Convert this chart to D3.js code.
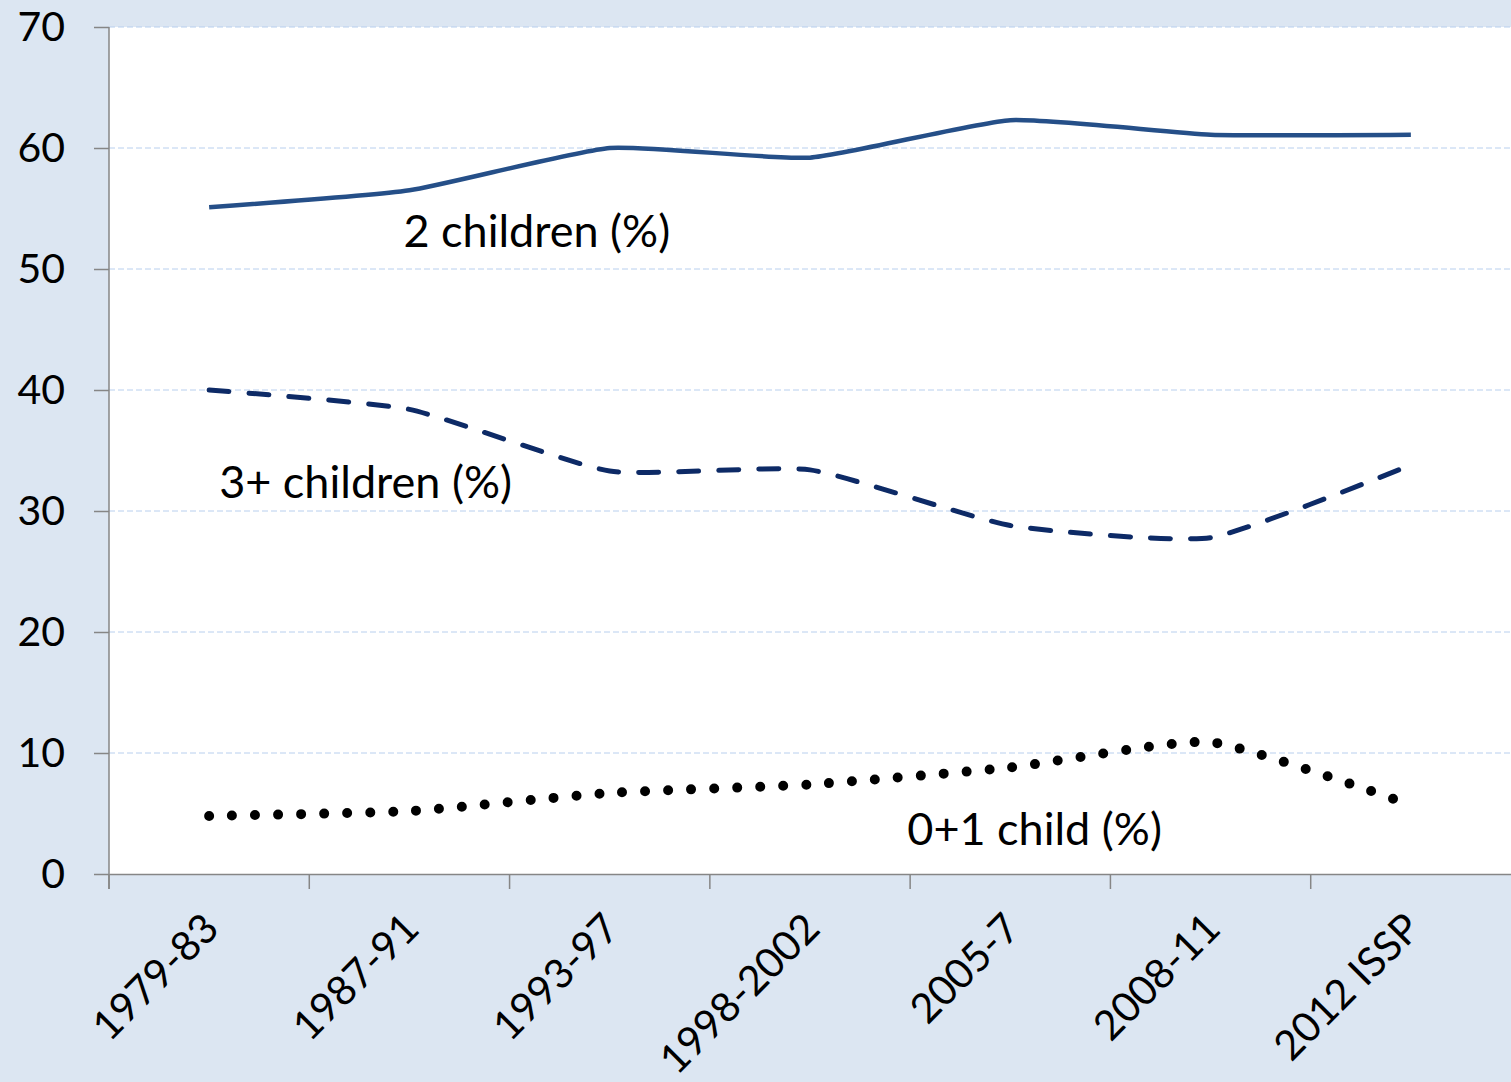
<!DOCTYPE html>
<html><head><meta charset="utf-8">
<script src="https://cdn.jsdelivr.net/npm/d3@7"></script>
<style>
html,body{margin:0;padding:0;background:#dce6f2;}
svg{display:block;}
text{font-family:Lato, "Open Sans", sans-serif;fill:#000;}
</style></head><body>
<svg id="chart" width="1511" height="1082"></svg>
<script>
const categories = ["1979-83","1987-91","1993-97","1998-2002","2005-7","2008-11","2012 ISSP"];
const twoChildren = [55.1, 56.5, 60.0, 59.2, 62.3, 61.1, 61.1];
const threePlus = [40.0, 38.4, 33.3, 33.4, 28.8, 27.8, 33.8];
const zeroOne = [4.8, 5.2, 6.7, 7.4, 8.8, 10.9, 5.7];
const yTicks = [0,10,20,30,40,50,60,70];
const seriesLabels = ["2 children (%)","3+ children (%)","0+1 child (%)"];

const svg = d3.select("#chart");
const W = 1511, H = 1082;
const m = {left:109, right:0, top:27, bottom:208};
svg.append("rect").attr("width",W).attr("height",H).attr("fill","#dce6f2");

const x = d3.scaleBand().domain(categories).range([m.left, W - m.right]);
const y = d3.scaleLinear().domain([0,70]).range([H - m.bottom, m.top]);

svg.append("rect").attr("x",m.left).attr("y",m.top)
  .attr("width",W-m.right-m.left).attr("height",H-m.bottom-m.top).attr("fill","#fff");

// gridlines
svg.append("g").selectAll("line").data(yTicks.filter(d=>d>0)).join("line")
  .attr("x1",m.left).attr("x2",W-m.right)
  .attr("y1",d=>y(d)).attr("y2",d=>y(d))
  .attr("stroke","#b8cfee").attr("stroke-width",1).attr("stroke-dasharray","6,3");

// y axis
const yAxis = svg.append("g").attr("transform",`translate(${m.left},0)`)
  .call(d3.axisLeft(y).tickValues(yTicks).tickSize(15).tickPadding(29));
yAxis.select(".domain").remove();
yAxis.selectAll(".tick line").attr("stroke","#868686").attr("stroke-width",1.5);
yAxis.selectAll(".tick text").attr("font-size",41).attr("font-family","Lato, sans-serif").attr("fill","#000");
svg.append("line").attr("x1",m.left).attr("x2",m.left).attr("y1",m.top).attr("y2",y(0)+15)
  .attr("stroke","#868686").attr("stroke-width",1.5);

// x axis
const xAxis = svg.append("g").attr("transform",`translate(0,${y(0)})`)
  .call(d3.axisBottom(x).tickSize(0).tickFormat(""));
xAxis.select(".domain").attr("stroke","#868686").attr("stroke-width",1.5);
const bounds = categories.map(c=>x(c));
svg.append("g").selectAll("line").data(bounds).join("line")
  .attr("x1",d=>d).attr("x2",d=>d).attr("y1",y(0)).attr("y2",y(0)+15)
  .attr("stroke","#868686").attr("stroke-width",1.5);
svg.append("g").selectAll("text").data(categories).join("text")
  .attr("transform",d=>`translate(${x(d)+x.bandwidth()/2+1},${y(0)+46}) rotate(-45)`)
  .attr("text-anchor","end").attr("dominant-baseline","central")
  .attr("font-size",41).text(d=>d);

const cx = d=>x(d)+x.bandwidth()/2;
const line = d3.line().x((d,i)=>cx(categories[i])).y(d=>y(d)).curve(d3.curveCardinal.tension(0.5));

svg.append("path").datum(twoChildren).attr("d",line).attr("fill","none")
  .attr("stroke","#254f88").attr("stroke-width",4.5);
svg.append("path").datum(threePlus).attr("d",line).attr("fill","none")
  .attr("stroke","#0d2a66").attr("stroke-width",5).attr("stroke-dasharray","20,20").attr("stroke-linecap","round");
svg.append("path").datum(zeroOne).attr("d",line).attr("fill","none")
  .attr("stroke","#000").attr("stroke-width",10).attr("stroke-dasharray","0,23").attr("stroke-linecap","round");

// annotations
const ann = [
  {t:seriesLabels[0], cat:categories[1], v:53.2, dx:-6},
  {t:seriesLabels[1], cat:categories[0], v:32.5, dx:10},
  {t:seriesLabels[2], cat:categories[4], v:3.8, dx:-103}
];
svg.append("g").selectAll("text").data(ann).join("text")
  .attr("x",d=>x(d.cat)+x.bandwidth()/2+d.dx).attr("y",d=>y(d.v))
  .attr("dominant-baseline","central").attr("font-size",45).text(d=>d.t);
</script>
</body></html>
